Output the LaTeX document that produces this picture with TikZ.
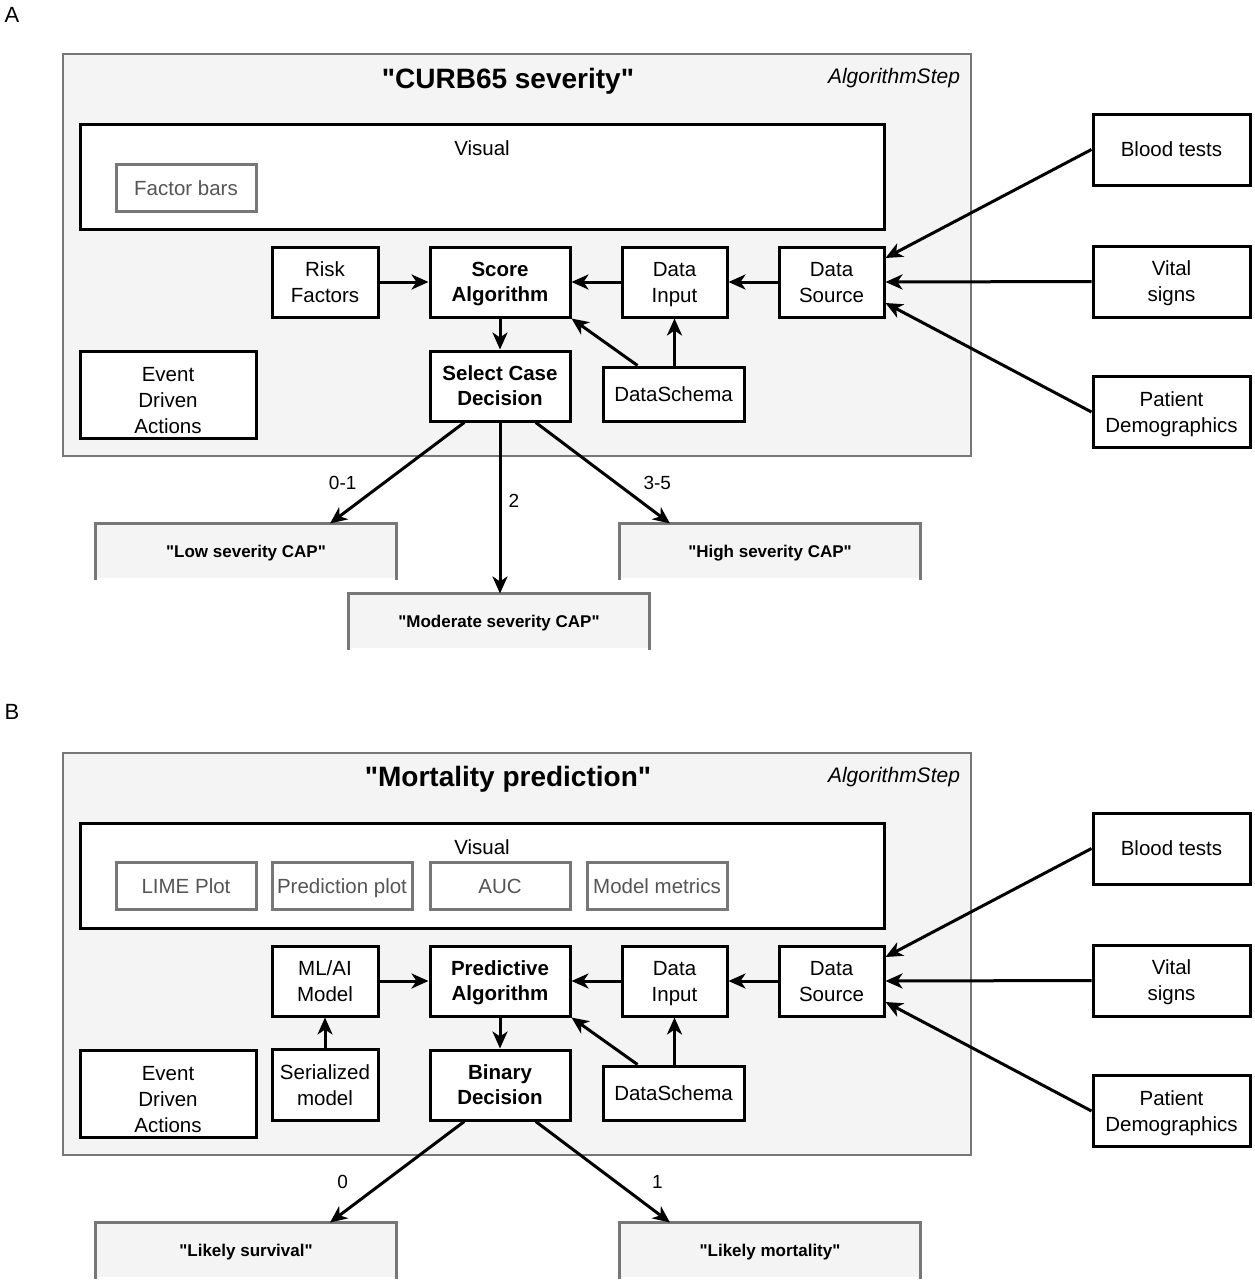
\documentclass[tikz,border=0pt]{standalone}
\usepackage{fontspec}
\setmainfont{Liberation Sans}[Ligatures=TeXOff]
\usetikzlibrary{arrows.meta,calc}

\definecolor{stepfill}{HTML}{F4F4F4}
\definecolor{stepline}{HTML}{777777}
\definecolor{vistext}{HTML}{555555}

\tikzset{every picture/.style={line width=3pt},
	stepbg/.style={draw=stepline,fill=stepfill,line width=2.5pt},
	blk/.style={draw,fill=white,line width=3pt,align=center,inner sep=0pt,text depth=0pt,font=\fontsize{20.5}{26}\selectfont},
	bld/.style={blk,font=\fontsize{20.5}{25}\selectfont\bfseries},
	vis/.style={draw=stepline,fill=white,line width=3pt,text=vistext,inner sep=0pt,text height=14.5pt,text depth=0pt,minimum width=140pt,minimum height=47pt,font=\fontsize{20.5}{24}\selectfont},
	outbox/.style={fill=stepfill,inner sep=0pt,text height=12.5pt,text depth=0pt,minimum width=298pt,minimum height=53pt,font=\fontsize{17}{20}\selectfont\bfseries},
	arr/.style={-{Stealth[length=17pt,width=15pt,inset=5pt]},line width=3pt},
	lbl/.style={inner sep=0pt,font=\fontsize{19}{22}\selectfont}
}

% frame of an algorithm step
\newcommand{\stepframe}{
	\draw[stepbg] (63,54) rectangle (971,456);
	\node[font=\fontsize{21}{24}\selectfont\itshape] (kind) at (894,78) {AlgorithmStep};
	%Shape: Visual frame
	\draw[fill=white] (80,124) rectangle (884,229);
	\node[font=\fontsize{20.5}{24}\selectfont] (visual) at (482,148) {Visual};
}

% parts that both algorithm steps share
\newcommand{\sharedparts}{
	% Text Node
	\node[blk,minimum width=105pt,minimum height=70pt] (input) at (674.5,282) {Data\\Input};
	\node[blk,minimum width=105pt,minimum height=70pt] (source) at (831.5,282) {Data\\Source};
	\node[blk,minimum width=141pt,minimum height=54pt] (schema) at (673.5,394) {DataSchema};
	\node[blk,text height=78pt,minimum width=176pt,minimum height=87pt] (event) at (168,394.5) {Event\\Driven\\Actions};
	\foreach \n/\t/\y in {blood/{Blood tests}/149.5,vital/{Vital\\signs}/281.5,patient/{Patient\\Demographics}/412}
		\node[blk,minimum width=157pt,minimum height=71pt] (\n) at (1171.5,\y) {\t};
	%Straight Lines
	\draw[arr] (input) -- (alg);
	\draw[arr] (source) -- (input);
	\draw[arr] (schema.north -| input.south) -- (input.south);
	\draw[arr] ($(schema.north)!0.5!(schema.north west)$) -- (alg.south east);
	\draw[arr] (alg) -- (dec);
	\draw[arr] (blood.west) -- ($(source.east)+(0,-24)$);
	\draw[arr] (vital.west) -- (source.east);
	\draw[arr] (patient.west) -- ($(source.east)+(0,21)$);
}

\begin{document}
\begin{tikzpicture}[x=1pt,y=-1pt]
	\useasboundingbox (0,0) rectangle (1255,1280);

	%%%%%%%% panel A
	\begin{scope}[name prefix=a-]
		\node[font=\fontsize{22}{26}\selectfont] (tag) at (12,15) {A};
		\stepframe
		\node[bld,minimum width=140pt,minimum height=70pt] (alg) at (500,282) {Score\\Algorithm};
		\node[bld,minimum width=140pt,minimum height=70pt] (dec) at (500,386) {Select Case\\Decision};
		\sharedparts
		\node[font=\fontsize{28}{32}\selectfont\bfseries] (title) at (508,81) {"CURB65 severity"};
		\node[vis] (bars) at (186,188) {Factor bars};
		\node[blk,minimum width=106pt,minimum height=70pt] (risk) at (325,282) {Risk\\Factors};
		\draw[arr] (risk) -- (alg);
		% outcomes
		\node[outbox] (low) at (246,551.5) {"Low severity CAP"};
		\node[outbox] (high) at (770,551.5) {"High severity CAP"};
		\node[outbox] (mod) at (499,621.5) {"Moderate severity CAP"};
		\foreach \o in {low,high,mod}
			\draw[stepline,line width=2.5pt] (\o.south west) |- (\o.north east) -- (\o.south east);
		\draw[arr] ($(dec.south)!0.5!(dec.south west)$) -- node[lbl,pos=0.6,xshift=-41pt] {0-1} ($(low.north)+(84,0)$);
		\draw[arr] (dec.south) -- node[lbl,pos=0.46,xshift=14pt] {2} (dec.south |- mod.north);
		\draw[arr] ($(dec.south)!0.5!(dec.south east)$) -- node[lbl,pos=0.6,xshift=41pt] {3-5} ($(high.north)+(-100,0)$);
	\end{scope}

	%%%%%%%% panel B
	\begin{scope}[shift={(0,699)},name prefix=b-]
		\node[font=\fontsize{22}{26}\selectfont] (tag) at (12,13) {B};
		\stepframe
		\node[bld,minimum width=140pt,minimum height=70pt] (alg) at (500,282) {Predictive\\Algorithm};
		\node[bld,minimum width=140pt,minimum height=70pt] (dec) at (500,386) {Binary\\Decision};
		\sharedparts
		\node[font=\fontsize{28}{32}\selectfont\bfseries] (title) at (508,80) {"Mortality prediction"};
		\node[vis] (lime) at (186,187) {LIME Plot};
		\node[vis] (pred) at (342,187) {Prediction plot};
		\node[vis] (auc) at (500,187) {AUC};
		\node[vis] (metrics) at (657,187) {Model metrics};
		\node[blk,minimum width=106pt,minimum height=70pt] (model) at (325,282) {ML/AI\\Model};
		\node[blk,minimum width=106pt,minimum height=71pt] (serial) at (325,386) {Serialized\\model};
		\draw[arr] (model) -- (alg);
		\draw[arr] (serial) -- (model);
		% outcomes
		\node[outbox] (surv) at (246,551.5) {"Likely survival"};
		\node[outbox] (mort) at (770,551.5) {"Likely mortality"};
		\foreach \o in {surv,mort}
			\draw[stepline,line width=2.5pt] (\o.south west) |- (\o.north east) -- (\o.south east);
		\draw[arr] ($(dec.south)!0.5!(dec.south west)$) -- node[lbl,pos=0.6,xshift=-41pt] {0} ($(surv.north)+(84,0)$);
		\draw[arr] ($(dec.south)!0.5!(dec.south east)$) -- node[lbl,pos=0.6,xshift=41pt] {1} ($(mort.north)+(-100,0)$);
	\end{scope}
\end{tikzpicture}
\end{document}
